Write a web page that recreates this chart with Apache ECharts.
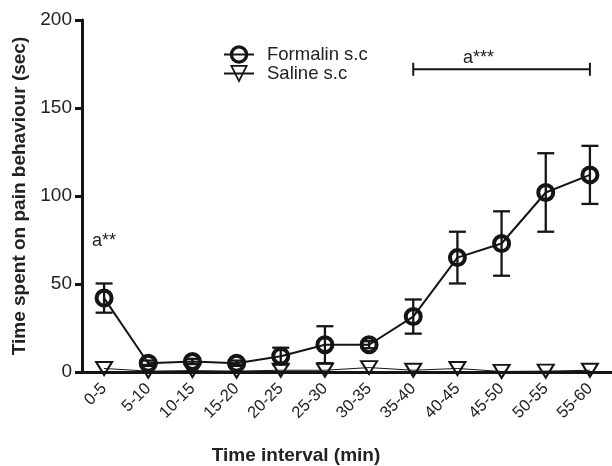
<!DOCTYPE html>
<html><head><meta charset="utf-8">
<script src="https://cdn.jsdelivr.net/npm/echarts@6/dist/echarts.min.js"></script>
<style>html,body{margin:0;padding:0;background:#fff}#c{width:612px;height:466px}</style>
</head><body><div id="c"></div>
<script>
const categories = ['0-5','5-10','10-15','15-20','20-25','25-30','30-35','35-40','40-45','45-50','50-55','55-60'];
const formalinMean = [42, 5, 6, 5, 9, 15.5, 15.5, 31.5, 65, 73, 102, 112];
const formalinSem = [8.3, 1.5, 1.5, 1.5, 4.8, 10.5, 2, 9.7, 14.7, 18.3, 22.3, 16.5];
const salineMean = [2, 0.5, 0.8, 0.5, 1, 1, 2.5, 1, 2, 0.3, 0.5, 1];
const yTicks = [0, 50, 100, 150, 200];
const seriesNames = ['Formalin s.c', 'Saline s.c'];
const annotations = [
  {from: '0-5', to: '0-5', value: 74.6, text: 'a**', bracket: false},
  {from: '35-40', to: '55-60', value: 172, text: 'a***', bracket: true}
];

const FONT = '"Liberation Sans", Arial, sans-serif';
const INK = '#151515';

const errData = categories.map((c, i) => [i, formalinMean[i] - formalinSem[i], formalinMean[i] + formalinSem[i]]);
const annData = annotations.map(a => [categories.indexOf(a.from), categories.indexOf(a.to), a.value]);

const chart = echarts.init(document.getElementById('c'), null, {renderer: 'canvas'});
chart.setOption({
  animation: false,
  backgroundColor: '#fff',
  grid: {left: 82, top: 20, width: 532, height: 352, containLabel: false},
  legend: {
    data: [
      {name: seriesNames[0], itemStyle: {borderWidth: 3.4}},
      {name: seriesNames[1], itemStyle: {borderWidth: 1.8}}
    ],
    orient: 'vertical',
    left: 218, top: 40,
    itemWidth: 30, itemHeight: 19, itemGap: 0,
    selectedMode: false,
    lineStyle: {width: 2},
    textStyle: {fontSize: 18.5, fontFamily: FONT, color: '#222', padding: [0, 0, 0, 8]}
  },
  xAxis: {
    type: 'category',
    data: categories,
    boundaryGap: true,
    axisLine: {lineStyle: {color: INK, width: 3}},
    axisTick: {alignWithLabel: true, interval: 0, length: 6, lineStyle: {color: INK, width: 3}},
    axisLabel: {interval: 0, rotate: 45, fontSize: 16.5, fontFamily: FONT, color: '#222', margin: 14},
    splitLine: {show: false}
  },
  yAxis: {
    type: 'value',
    min: yTicks[0], max: yTicks[yTicks.length - 1], interval: yTicks[1] - yTicks[0],
    name: 'Time spent on pain behaviour (sec)',
    nameLocation: 'middle', nameGap: 47,
    nameTextStyle: {fontSize: 19, fontWeight: 'bold', fontFamily: FONT, color: '#222'},
    axisLine: {show: true, lineStyle: {color: INK, width: 3}},
    axisTick: {show: true, length: 7, lineStyle: {color: INK, width: 3}},
    axisLabel: {fontSize: 19, fontFamily: FONT, color: '#222', margin: 10},
    splitLine: {show: false}
  },
  graphic: [{
    type: 'text', x: 296, y: 456,
    style: {text: 'Time interval (min)', font: 'bold 19px ' + FONT, fill: '#222', align: 'center', verticalAlign: 'middle'}
  }],
  series: [
    {
      type: 'custom', name: 'err', z: 1,
      data: errData,
      renderItem: function (params, api) {
        const x = api.value(0);
        const lo = api.coord([x, api.value(1)]);
        const hi = api.coord([x, api.value(2)]);
        const w = 8.5;
        const st = {stroke: INK, lineWidth: 2.3};
        return {type: 'group', children: [
          {type: 'line', shape: {x1: lo[0], y1: lo[1], x2: hi[0], y2: hi[1]}, style: st},
          {type: 'line', shape: {x1: lo[0] - w, y1: lo[1], x2: lo[0] + w, y2: lo[1]}, style: st},
          {type: 'line', shape: {x1: hi[0] - w, y1: hi[1], x2: hi[0] + w, y2: hi[1]}, style: st}
        ]};
      }
    },
    {
      type: 'line', name: seriesNames[1], z: 2,
      data: salineMean,
      symbol: 'path://M0,0 L20,0 L10,17 Z', symbolSize: [16, 13],
      lineStyle: {color: INK, width: 1},
      itemStyle: {color: 'rgba(255,255,255,0)', borderColor: INK, borderWidth: 2},
      emphasis: {disabled: true}
    },
    {
      type: 'line', name: seriesNames[0], z: 3,
      data: formalinMean,
      symbol: 'circle', symbolSize: 15,
      lineStyle: {color: INK, width: 2},
      itemStyle: {color: 'rgba(255,255,255,0)', borderColor: INK, borderWidth: 4},
      emphasis: {disabled: true}
    },
    {
      type: 'custom', name: 'ann', z: 4,
      data: annData,
      renderItem: function (params, api) {
        const a = annotations[params.dataIndex];
        const p1 = api.coord([api.value(0), api.value(2)]);
        const p2 = api.coord([api.value(1), api.value(2)]);
        const st = {stroke: INK, lineWidth: 2};
        const children = [];
        let tx = p1[0], ty = p1[1];
        if (a.bracket) {
          children.push({type: 'line', shape: {x1: p1[0], y1: p1[1], x2: p2[0], y2: p2[1]}, style: st});
          children.push({type: 'line', shape: {x1: p1[0], y1: p1[1] - 6.5, x2: p1[0], y2: p1[1] + 6.5}, style: st});
          children.push({type: 'line', shape: {x1: p2[0], y1: p2[1] - 6.5, x2: p2[0], y2: p2[1] + 6.5}, style: st});
          tx = p1[0] + 0.37 * (p2[0] - p1[0]);
          ty = p1[1] - 11;
        }
        children.push({type: 'text', x: tx, y: ty,
          style: {text: a.text, font: '18px ' + FONT, fill: '#222', align: 'center', verticalAlign: 'middle'}});
        return {type: 'group', children: children};
      }
    }
  ]
});
</script>
</body></html>
